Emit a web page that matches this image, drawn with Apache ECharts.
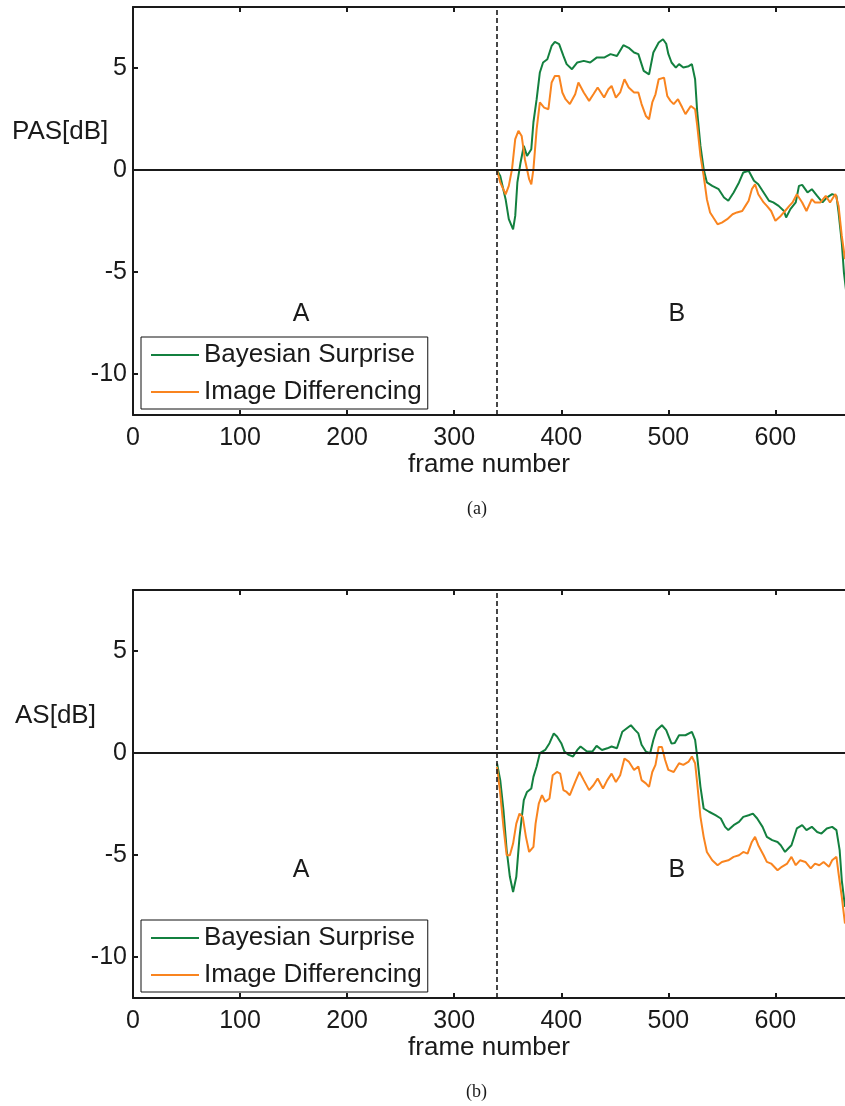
<!DOCTYPE html>
<html style="height: 100%">
<head>
<meta charset="utf-8">
<title>PAS / AS</title>
<script src="https://cdn.jsdelivr.net/npm/echarts@6/dist/echarts.min.js"></script>
</head>
<body style="height: 100%; margin: 0; background: #fff">
<div id="container" style="width: 845px; height: 1106px"></div>
<script type="text/javascript">
// series names and tick labels
var seriesNames = ['Bayesian Surprise', 'Image Differencing'];
var xTicks = [0, 100, 200, 300, 400, 500, 600];
var yTicks = [-10, -5, 0, 5];
var splitFrame = 340;

// (a) PAS[dB] - Bayesian Surprise
var pasBayesFrames = [340, 343, 348, 351, 355, 357, 359, 362, 365, 368, 372, 374, 377, 380, 383, 387, 391, 394, 398, 402, 405, 410, 415, 421, 427, 433, 440, 446, 452, 458, 463, 468, 472, 477, 482, 486, 491, 495, 498, 500, 503, 507, 510, 514, 519, 522, 525, 527, 530, 533, 536, 541, 547, 552, 556, 561, 566, 570, 575, 580, 584, 589, 594, 598, 603, 608, 610, 614, 619, 622, 625, 630, 634, 639, 644, 648, 653, 657, 659, 662, 664, 666];
var pasBayes = [0, -0.28, -1.42, -2.4, -2.9, -2.24, -0.6, 0.38, 1.19, 0.7, 1.03, 2.35, 3.48, 4.79, 5.28, 5.44, 6.09, 6.29, 6.18, 5.6, 5.2, 4.95, 5.28, 5.36, 5.28, 5.52, 5.52, 5.69, 5.6, 6.13, 6.0, 5.77, 5.69, 4.87, 4.7, 5.77, 6.26, 6.42, 6.2, 5.7, 5.28, 5.03, 5.2, 5.03, 5.1, 5.2, 4.46, 2.83, 1.19, 0.05, -0.6, -0.77, -0.93, -1.34, -1.5, -1.09, -0.6, -0.11, -0.03, -0.52, -0.69, -1.09, -1.5, -1.58, -1.75, -2.0, -2.32, -1.91, -1.58, -0.77, -0.72, -1.09, -0.93, -1.26, -1.58, -1.34, -1.17, -1.26, -2.07, -3.55, -5.02, -5.9];

// (a) PAS[dB] - Image Differencing
var pasDiffFrames = [340, 343, 348, 351, 354, 357, 360, 363, 366, 370, 372, 374, 377, 380, 384, 388, 391, 394, 398, 401, 404, 408, 413, 416, 421, 426, 430, 434, 440, 444, 447, 451, 455, 459, 463, 468, 472, 475, 479, 482, 485, 488, 491, 496, 499, 502, 505, 509, 513, 516, 521, 525, 527, 530, 533, 536, 539, 542, 546, 550, 555, 560, 564, 569, 572, 575, 578, 581, 584, 589, 592, 596, 600, 605, 609, 613, 616, 620, 625, 629, 634, 637, 642, 647, 651, 656, 659, 662, 665];
var pasDiff = [0, -0.6, -1.18, -0.77, 0.05, 1.52, 1.93, 1.68, 0.54, -0.44, -0.69, 0.05, 2.01, 3.32, 3.07, 2.99, 4.3, 4.62, 4.62, 3.81, 3.48, 3.24, 3.72, 4.3, 3.81, 3.4, 3.72, 4.05, 3.56, 3.97, 4.13, 3.56, 3.81, 4.46, 4.05, 3.81, 3.81, 3.24, 2.66, 2.5, 3.32, 3.72, 4.46, 4.54, 3.64, 3.4, 3.24, 3.48, 3.07, 2.75, 3.15, 2.99, 2.17, 0.7, -0.28, -1.42, -2.07, -2.32, -2.65, -2.57, -2.4, -2.16, -2.07, -2.0, -1.75, -1.5, -0.93, -0.69, -1.18, -1.58, -1.75, -2.0, -2.48, -2.24, -2.0, -1.75, -1.58, -1.18, -1.58, -2.0, -1.42, -1.58, -1.58, -1.26, -1.58, -1.17, -1.75, -3.22, -4.36];

// (b) AS[dB] - Bayesian Surprise
var asBayesFrames = [340, 343, 346, 349, 352, 355, 358, 361, 365, 368, 372, 374, 377, 380, 385, 389, 393, 396, 400, 403, 407, 411, 415, 418, 424, 429, 433, 438, 443, 447, 452, 457, 461, 465, 469, 472, 475, 479, 483, 486, 489, 494, 498, 503, 506, 510, 516, 522, 525, 527, 530, 533, 538, 544, 549, 553, 556, 561, 566, 570, 575, 579, 583, 588, 592, 597, 602, 605, 609, 612, 615, 620, 625, 629, 634, 639, 643, 648, 653, 657, 660, 662, 665];
var asBayes = [-0.5, -1.32, -2.79, -4.75, -6.06, -6.8, -6.06, -4.1, -2.3, -1.9, -1.73, -1.16, -0.65, 0, 0.16, 0.49, 0.97, 0.82, 0.49, 0.08, -0.08, -0.16, 0.16, 0.33, 0.08, 0.08, 0.36, 0.16, 0.24, 0.33, 0.24, 1.05, 1.21, 1.37, 1.13, 0.97, 0.41, 0.08, 0, 0.65, 1.13, 1.37, 1.13, 0.47, 0.5, 0.88, 0.88, 1.05, 0.65, -0.18, -1.65, -2.71, -2.87, -3.04, -3.2, -3.61, -3.77, -3.53, -3.37, -3.12, -3.04, -2.96, -3.2, -3.61, -4.1, -4.26, -4.35, -4.51, -4.84, -4.67, -4.51, -3.69, -3.53, -3.77, -3.61, -3.86, -3.94, -3.69, -3.61, -3.77, -4.75, -6.23, -7.53];

// (b) AS[dB] - Image Differencing
var asDiffFrames = [340, 343, 346, 349, 352, 355, 358, 361, 364, 367, 370, 374, 376, 379, 382, 385, 389, 392, 396, 399, 402, 405, 408, 413, 417, 421, 426, 430, 434, 439, 443, 447, 451, 455, 459, 463, 468, 472, 475, 479, 482, 485, 488, 491, 494, 497, 500, 505, 510, 514, 519, 522, 525, 527, 530, 533, 536, 541, 546, 550, 556, 561, 566, 570, 574, 578, 581, 584, 589, 592, 596, 602, 606, 611, 615, 619, 623, 628, 633, 637, 641, 645, 650, 653, 657, 659, 662, 665];
var asDiff = [-0.67, -1.98, -3.61, -5.0, -5.0, -4.43, -3.45, -2.96, -3.12, -4.1, -4.84, -4.59, -3.45, -2.47, -2.06, -2.38, -2.22, -1.08, -0.92, -1.0, -1.81, -1.9, -2.06, -1.41, -0.92, -1.32, -1.81, -1.57, -1.24, -1.73, -1.32, -1.0, -1.41, -1.08, -0.26, -0.41, -0.82, -0.65, -1.32, -1.48, -1.65, -0.92, -0.57, 0.31, 0.31, -0.33, -0.82, -0.92, -0.49, -0.57, -0.41, -0.16, -0.49, -1.49, -3.12, -4.1, -4.84, -5.25, -5.49, -5.33, -5.25, -5.08, -5.0, -4.84, -4.92, -4.35, -4.1, -4.51, -5.0, -5.33, -5.41, -5.74, -5.57, -5.41, -5.08, -5.49, -5.25, -5.33, -5.65, -5.41, -5.49, -5.33, -5.57, -5.25, -5.08, -5.9, -7.04, -8.35];

// region labels, in data coordinates
var regionLabelsA = [[157, -7.05, 'A'], [508, -7.05, 'B']];
var regionLabelsB = [[157, -5.75, 'A'], [508, -5.75, 'B']];

var GREEN = '#13803f';
var ORANGE = '#f9841f';
var FONT = 'Liberation Sans';

function zip(xs, ys) {
    var out = [];
    for (var i = 0; i < xs.length; i++) out.push([xs[i], ys[i]]);
    return out;
}

var axisLineStyle = { color: '#1a1a1a', width: 2 };

function bottomAxis(idx) {
    return {
        type: 'value', gridIndex: idx, position: 'bottom',
        min: 0, max: 665,
        name: 'frame number', nameLocation: 'middle', nameGap: 36,
        nameTextStyle: { fontFamily: FONT, fontSize: 26, color: '#1a1a1a' },
        axisLine: { onZero: false, lineStyle: axisLineStyle },
        axisTick: { inside: true, length: 5, customValues: xTicks, lineStyle: axisLineStyle },
        axisLabel: { customValues: xTicks, margin: 11, fontFamily: FONT, fontSize: 25, color: '#1a1a1a' },
        splitLine: { show: false }
    };
}
function topAxis(idx) {
    return {
        type: 'value', gridIndex: idx, position: 'top',
        min: 0, max: 665,
        axisLine: { onZero: false, lineStyle: axisLineStyle },
        axisTick: { inside: true, length: 5, customValues: xTicks, lineStyle: axisLineStyle },
        axisLabel: { show: false },
        splitLine: { show: false }
    };
}
function leftAxis(idx) {
    return {
        type: 'value', gridIndex: idx,
        min: -12, max: 8,
        axisLine: { onZero: false, lineStyle: axisLineStyle },
        axisTick: { inside: true, length: 5, customValues: yTicks, lineStyle: axisLineStyle },
        axisLabel: { customValues: yTicks, margin: 6, fontFamily: FONT, fontSize: 25, color: '#1a1a1a' },
        splitLine: { show: false }
    };
}

function lineSeries(name, color, xIdx, yIdx, data, withMarks) {
    var s = {
        name: name, type: 'line', xAxisIndex: xIdx, yAxisIndex: yIdx,
        data: data, symbol: 'none', smooth: false, clip: true,
        lineStyle: { color: color, width: 2 }, itemStyle: { color: color },
        z: 3
    };
    if (withMarks) {
        s.markLine = {
            silent: true, symbol: 'none', label: { show: false }, animation: false,
            data: [
                { xAxis: splitFrame, lineStyle: { color: '#1a1a1a', width: 1.6, type: [5, 3] } },
                { yAxis: 0, lineStyle: { color: '#1a1a1a', width: 2, type: 'solid' } }
            ]
        };
    }
    return s;
}

function labelSeries(xIdx, yIdx, labels) {
    return {
        type: 'scatter', xAxisIndex: xIdx, yAxisIndex: yIdx,
        symbolSize: 0, silent: true,
        itemStyle: { color: '#fff', opacity: 1 },
        data: labels.map(function (d) { return { value: [d[0], d[1]], name: d[2] }; }),
        label: {
            show: true, position: 'inside', formatter: '{b}',
            fontFamily: FONT, fontSize: 25, color: '#1a1a1a', opacity: 1,
            textBorderWidth: 0, textBorderColor: 'transparent'
        }
    };
}

function legendAt(top) {
    return {
        data: seriesNames, orient: 'vertical', left: 141, top: top,
        icon: 'rect', itemWidth: 48, itemHeight: 2, itemGap: 7,
        padding: [3, 6, 2, 10],
        backgroundColor: '#fff', borderColor: '#111', borderWidth: 1, borderRadius: 0,
        textStyle: { fontFamily: FONT, fontSize: 26, color: '#1a1a1a', lineHeight: 30 },
        selectedMode: false
    };
}

var dom = document.getElementById('container');
var myChart = echarts.init(dom, null, { renderer: 'canvas' });

var option = {
    animation: false,
    backgroundColor: '#fff',
    grid: [
        { left: 133, right: 0, top: 7, height: 408 },
        { left: 133, right: 0, top: 590, height: 408 }
    ],
    xAxis: [bottomAxis(0), topAxis(0), bottomAxis(1), topAxis(1)],
    yAxis: [leftAxis(0), leftAxis(1)],
    legend: [legendAt(337), legendAt(920)],
    graphic: [
        { type: 'text', left: 12, top: 119, style: { text: 'PAS[dB]', font: '26px "Liberation Sans"', fill: '#1a1a1a' } },
        { type: 'text', left: 15, top: 703, style: { text: 'AS[dB]', font: '26px "Liberation Sans"', fill: '#1a1a1a' } },
        { type: 'text', left: 467, top: 500, style: { text: '(a)', font: '18px "Liberation Serif"', fill: '#1a1a1a' } },
        { type: 'text', left: 466, top: 1083, style: { text: '(b)', font: '18px "Liberation Serif"', fill: '#1a1a1a' } }
    ],
    series: [
        lineSeries(seriesNames[0], GREEN, 0, 0, zip(pasBayesFrames, pasBayes), true),
        lineSeries(seriesNames[1], ORANGE, 0, 0, zip(pasDiffFrames, pasDiff), false),
        lineSeries(seriesNames[0], GREEN, 2, 1, zip(asBayesFrames, asBayes), true),
        lineSeries(seriesNames[1], ORANGE, 2, 1, zip(asDiffFrames, asDiff), false),
        labelSeries(0, 0, regionLabelsA),
        labelSeries(2, 1, regionLabelsB)
    ]
};

myChart.setOption(option);
</script>
</body>
</html>
